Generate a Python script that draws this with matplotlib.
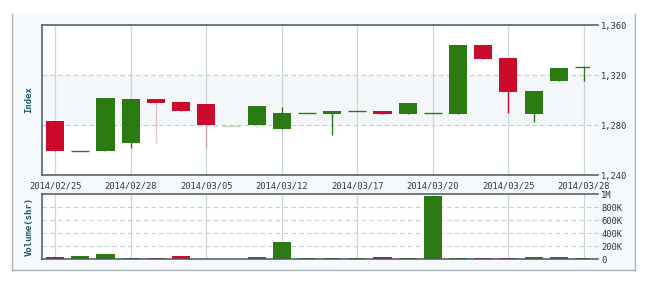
import numpy as np
import matplotlib
matplotlib.use('Agg')
import matplotlib.pyplot as plt
from matplotlib.patches import Rectangle
from matplotlib.lines import Line2D

# daily index values
opens = [1283.2, 1259.6, 1259.2, 1265.8, 1301.0, 1298.4, 1296.8, 1279.5, 1280.0, 1277.0, 1289.3,
         1289.0, 1291.2, 1291.2, 1288.8, 1289.3, 1288.8, 1344.0, 1333.3, 1289.0, 1315.5, 1326.7]
closes = [1259.2, 1259.6, 1301.3, 1300.8, 1297.8, 1291.5, 1280.0, 1279.5, 1295.2, 1289.6, 1289.3,
          1291.2, 1291.2, 1288.8, 1297.6, 1289.3, 1344.0, 1333.0, 1306.7, 1307.2, 1326.0, 1326.7]
highs = [1283.2, 1259.6, 1301.3, 1300.8, 1301.0, 1298.4, 1296.8, 1279.5, 1295.2, 1294.7, 1289.3,
         1291.2, 1291.2, 1291.2, 1297.6, 1289.3, 1344.0, 1344.0, 1333.3, 1307.2, 1326.0, 1326.7]
lows = [1259.2, 1259.6, 1259.2, 1262.0, 1265.8, 1291.5, 1262.0, 1279.5, 1277.6, 1277.0, 1289.3,
        1272.0, 1291.2, 1288.8, 1288.8, 1289.3, 1288.8, 1333.0, 1289.3, 1282.7, 1315.5, 1315.5]
volumes = [35, 51, 82, 15, 15, 51, 3, 3, 35, 272, 15, 15, 15, 35, 15, 975, 15, 15, 15, 30, 30, 15]  # thousand shares

tick_idx = [0, 3, 6, 9, 12, 15, 18, 21]
tick_labels = ['2014/02/25', '2014/02/28', '2014/03/05', '2014/03/12',
               '2014/03/17', '2014/03/20', '2014/03/25', '2014/03/28']
price_ticks = [1240, 1280, 1320, 1360]
vol_ticks = [0, 200, 400, 600, 800, 1000]
vol_labels = ['0', '200K', '400K', '600K', '800K', '1M']

RED = '#cc0a2c'
GREEN = '#2b7a12'
DARK = '#4a585e'
GRID = '#c9d6dc'
LBL = '#1d5a68'
mono = 'DejaVu Sans Mono'

faded_candles = [7]
faded_vols = [6, 7]
pale_wicks = [4, 6, 8]

fig = plt.figure(figsize=(6.5, 2.83), dpi=100)
fig.patch.set_facecolor('white')

# background panel
fig.patches.append(Rectangle((12 / 650, 13 / 283), 623 / 650, 256 / 283, transform=fig.transFigure,
                             facecolor='#f5f9fb', edgecolor='none', zorder=-2))
for xs, ys in [([12, 12], [13, 269]), ([635, 635], [13, 269]), ([12, 635], [13, 13])]:
    fig.lines.append(Line2D([x / 650 for x in xs], [y / 283 for y in ys], transform=fig.transFigure,
                            color='#aab4b8', lw=1, zorder=-1))

ax = fig.add_axes([42 / 650, 108 / 283, 548 / 650, 150 / 283])
axv = fig.add_axes([42 / 650, 23.7 / 283, 548 / 650, 65.3 / 283])

x = np.arange(len(opens))
xlim = (-0.52, 21.24)

# ---- price panel
ax.set_facecolor('white')
ax.axhspan(1280, 1320, color='#f3f7f9', zorder=0)
for t in tick_idx:
    ax.axvline(t, color=GRID, lw=0.9, zorder=1)
for p in [1280, 1320]:
    ax.axhline(p, xmin=0, xmax=1.014, color='#c4ccd0', lw=0.8, ls=(0, (4, 3)), clip_on=False, zorder=1)
for p in [1240, 1360]:
    ax.axhline(p, xmin=0, xmax=1.014, color=DARK, lw=1.1, clip_on=False, zorder=5)

for i in x:
    o, c, h, l = opens[i], closes[i], highs[i], lows[i]
    col = RED if c < o else GREEN
    alpha = 0.25 if i in faded_candles else 1
    wa = 0.25 if i in pale_wicks else 1
    ax.vlines(i, l, h, color=col, lw=1, alpha=wa, zorder=2)
    if abs(c - o) < 0.5:
        ax.hlines(o, i - 0.36, i + 0.36, color=col, lw=1, alpha=alpha, zorder=3)
    else:
        ax.bar(i, abs(c - o), bottom=min(o, c), width=0.72, color=col, alpha=alpha, zorder=3)

ax.set_xlim(*xlim)
ax.set_ylim(1240, 1360)
ax.yaxis.tick_right()
ax.set_yticks(price_ticks)
ax.set_yticklabels(['{:,}'.format(p) for p in price_ticks])
ax.set_xticks(tick_idx)
ax.set_xticklabels(tick_labels)
ax.tick_params(length=0, labelsize=6.3, labelcolor='#333333', pad=5)
ax.tick_params(axis='y', pad=8)
for lab in ax.get_xticklabels() + ax.get_yticklabels():
    lab.set_family(mono)
for s in ['right', 'top', 'bottom']:
    ax.spines[s].set_visible(False)
ax.spines['left'].set_color(DARK)
ax.spines['left'].set_linewidth(1.1)
ax.set_ylabel('Index', family=mono, fontsize=6.5, color=LBL, fontweight='bold', labelpad=6)

# ---- volume panel
axv.set_facecolor('white')
for t in tick_idx:
    axv.axvline(t, color=GRID, lw=0.9, zorder=1)
for v in vol_ticks[1:-1]:
    axv.axhline(v, xmin=0, xmax=1.014, color='#c4ccd0', lw=0.8, ls=(0, (4, 3)), clip_on=False, zorder=1)
for v in [0, 1000]:
    axv.axhline(v, xmin=0, xmax=1.014, color=DARK, lw=1.1, clip_on=False, zorder=5)
for i in x:
    col = RED if closes[i] < opens[i] else GREEN
    alpha = 0.25 if i in faded_vols else 1
    axv.bar(i, volumes[i], width=0.72, color=col, alpha=alpha, zorder=3)

axv.set_xlim(*xlim)
axv.set_ylim(0, 1000)
axv.yaxis.tick_right()
axv.set_yticks(vol_ticks)
axv.set_yticklabels(vol_labels)
axv.set_xticks([])
axv.tick_params(length=0, labelsize=6.3, labelcolor='#333333', pad=8)
for lab in axv.get_yticklabels():
    lab.set_family(mono)
for s in ['right', 'top', 'bottom']:
    axv.spines[s].set_visible(False)
axv.spines['left'].set_color(DARK)
axv.spines['left'].set_linewidth(1.1)
axv.set_ylabel('Volume(shr)', family=mono, fontsize=6.5, color=LBL, fontweight='bold', labelpad=6)

fig.savefig('out.png', dpi=100)
